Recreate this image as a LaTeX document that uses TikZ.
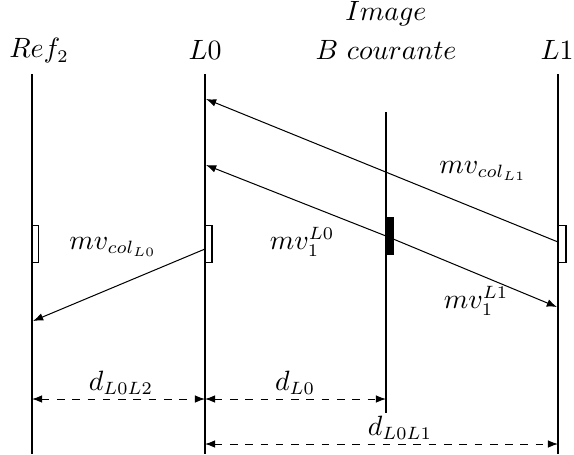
\documentclass[tikz,border=0pt]{standalone}
\usetikzlibrary{arrows.meta}
\begin{document}
\begin{tikzpicture}[x=0.01379cm,y=-0.01379cm,
  axis/.style={line width=1.1pt},
  mv/.style={-{Latex[length=4pt,width=3pt]},line width=0.4pt},
  dim/.style={{Latex[length=4pt,width=3pt]}-{Latex[length=4pt,width=3pt]},dashed,line width=0.4pt},
  lab/.style={inner sep=0pt,font=\fontsize{10.5pt}{12pt}\selectfont}]
\useasboundingbox (0,0) rectangle (574,454);
% axis tops/bottoms
\coordinate (r2t) at (32,74);  \coordinate (r2b) at (32,454);
\coordinate (l0t) at (205,74); \coordinate (l0b) at (205,454);
\coordinate (bt) at (386,112); \coordinate (bb) at (386,413);
\coordinate (l1t) at (558,74); \coordinate (l1b) at (558,454);
\draw[axis] (r2t) -- (r2b);
\draw[axis] (l0t) -- (l0b);
\draw[axis] (bt) -- (bb);
\draw[axis] (l1t) -- (l1b);
% headers
\node[lab] (hr2) at (39,51) {$Ref_2$};
\node[lab] (hl0) at (205,50) {$L0$};
\node[lab] (himg) at (386,14) {$Image$};
\node[lab] (hb) at (386,50) {$B\ courante$};
\node[lab] (hl1) at (557,50) {$L1$};
% blocks
\draw[line width=0.4pt] (32,225) rectangle (38.5,262);
\draw[line width=0.4pt] (205,225) rectangle (212,262);
\draw[line width=0.4pt] (558,225) rectangle (566,262);
\fill (386,217) rectangle (394,255);
% motion vectors
\coordinate (a1s) at (558,242); \coordinate (a1e) at (206,99);
\draw[mv] (a1s) -- (a1e);
\coordinate (bc) at (386,236);
\coordinate (a2e) at (206,165); \coordinate (a3e) at (557,307);
\draw[mv] (bc) -- (a2e);
\draw[mv] (bc) -- (a3e);
\coordinate (a4s) at (205,249); \coordinate (a4e) at (33,321);
\draw[mv] (a4s) -- (a4e);
\node[lab] (mvl1) at (483,171) {$mv_{col_{L1}}$};
\node[lab] (mv1l0) at (302,242) {$mv_1^{L0}$};
\node[lab] (mv1l1) at (476,301) {$mv_1^{L1}$};
\node[lab] (mvl0) at (113,247) {$mv_{col_{L0}}$};
% dimensions
\coordinate (d1a) at (32,399); \coordinate (d1b) at (205,399);
\coordinate (d2a) at (205,399); \coordinate (d2b) at (386,399);
\coordinate (d3a) at (205,444); \coordinate (d3b) at (558,444);
\draw[dim] (d1a) -- (d1b);
\draw[dim] (d2a) -- (d2b);
\draw[dim] (d3a) -- (d3b);
\node[lab] (dl0l2) at (121,383) {$d_{L0L2}$};
\node[lab] (dl0) at (295,383) {$d_{L0}$};
\node[lab] (dl0l1) at (400,428) {$d_{L0L1}$};
\end{tikzpicture}
\end{document}
